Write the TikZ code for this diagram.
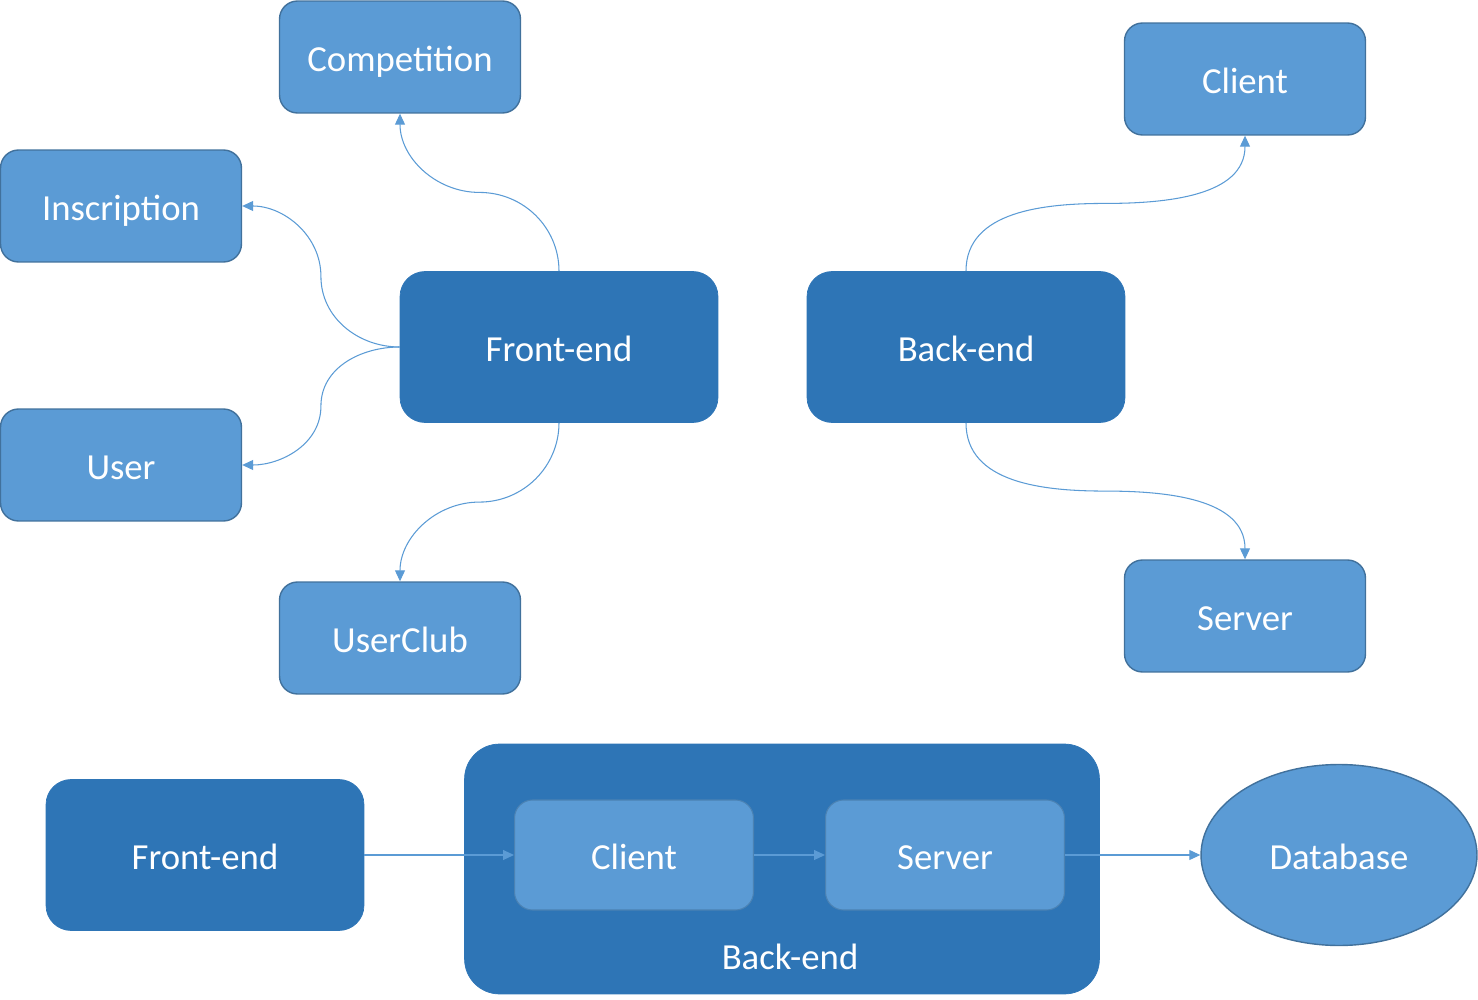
\documentclass[tikz,border=0pt]{standalone}
\usepackage{fontspec}
\setmainfont{Carlito}
\usetikzlibrary{positioning,arrows.meta,shapes.geometric,calc}
\definecolor{boxDark}{HTML}{2E75B6}
\definecolor{boxLight}{HTML}{5B9BD5}
\definecolor{boxBorder}{HTML}{41719C}
\tikzstyle{diagram} = [x = .02cm, y = -.02cm]
\tikzstyle{boxText} = [text=white, font=\fontsize{20.9}{25}\selectfont, text height=19pt, text depth=3pt]
\tikzstyle{smallBox} = [boxText, draw=boxBorder, fill=boxLight, line width=.8pt, rounded corners=.36cm, minimum width=4.82cm, minimum height=2.24cm]
\tikzstyle{bigBox} = [boxText, draw=boxDark, fill=boxDark, rounded corners=.5cm, minimum width=6.36cm, minimum height=3.02cm]
\tikzstyle{innerBox} = [boxText, draw=boxBorder!60!boxLight, fill=boxLight, line width=.6pt, rounded corners=.36cm, minimum width=4.78cm, minimum height=2.2cm]
\tikzstyle{dbShape} = [boxText, ellipse, draw=boxBorder, fill=boxLight, line width=.8pt, minimum width=5.52cm, minimum height=3.62cm]
\tikzstyle{link} = [draw=boxLight, line width=.6pt, -{Triangle[length=.22cm, width=.2cm]}]
\newcommand{\curveLink}[6]{\draw [link] (#1) to[out=#3, in=#4] ($(#1)!.5!(#2)$) to[out=#5, in=#6] (#2);}

\begin{document}
\begin{tikzpicture}[diagram]
  \useasboundingbox (0,0) rectangle (1478,1000);

  % top: front-end and its parts
  \node [bigBox] (frontEnd) at (559,347) {Front-end};
  \node [smallBox] (competition) at (400,57) {Competition};
  \node [smallBox] (inscription) at (121,206) {Inscription};
  \node [smallBox] (user) at (121,465) {User};
  \node [smallBox] (userClub) at (400,638) {UserClub};

  % top: back-end and its parts
  \node [bigBox] (backEnd) at (966,347) {Back-end};
  \node [smallBox] (clientTop) at (1245,79) {Client};
  \node [smallBox] (serverTop) at (1245,616) {Server};

  \curveLink{frontEnd.north}{competition.south}{90}{0}{180}{-90}
  \curveLink{frontEnd.west}{inscription.east}{180}{-90}{90}{0}
  \curveLink{frontEnd.west}{user.east}{180}{90}{-90}{0}
  \curveLink{frontEnd.south}{userClub.north}{-90}{0}{180}{90}
  \curveLink{backEnd.north}{clientTop.south}{90}{180}{0}{-90}
  \curveLink{backEnd.south}{serverTop.north}{-90}{180}{0}{90}

  % bottom: the chain
  \node [bigBox] (frontEndLow) at (205,855) {Front-end};
  \node [bigBox, rounded corners=.7cm, minimum width=12.7cm, minimum height=5cm] (backEndFrame) at (782,869) {};
  \node [boxText] (backEndLabel) at (790,955) {Back-end};
  \node [innerBox] (clientLow) at (634,855) {Client};
  \node [innerBox] (serverLow) at (945,855) {Server};
  \node [dbShape] (database) at (1339,855) {Database};

  \draw [link] (frontEndLow.east) -- (clientLow.west);
  \draw [link] (clientLow.east) -- (serverLow.west);
  \draw [link] (serverLow.east) -- (database.west);
\end{tikzpicture}
\end{document}
